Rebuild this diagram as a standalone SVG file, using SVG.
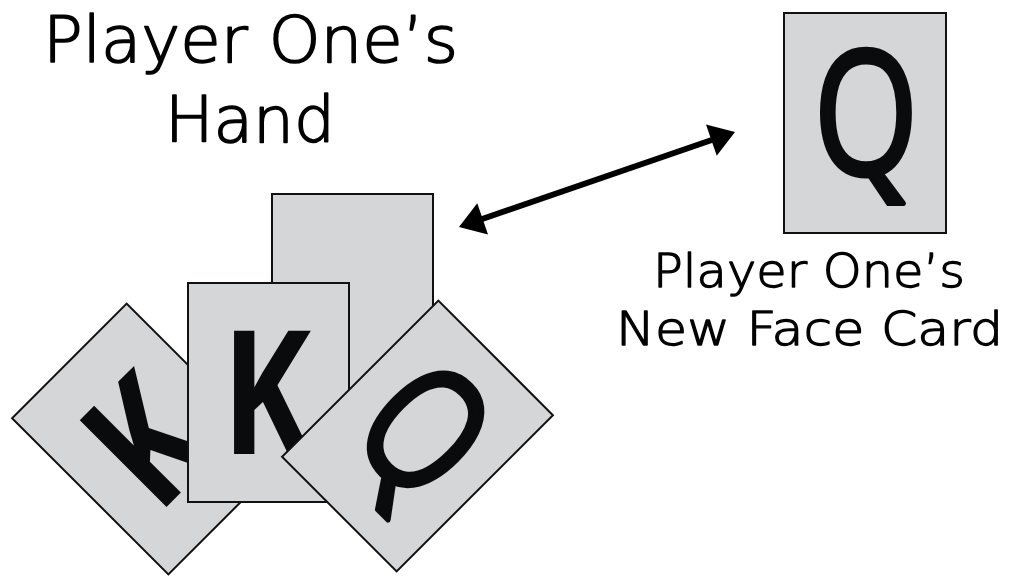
<svg xmlns="http://www.w3.org/2000/svg" width="1013" height="582" viewBox="0 0 1013 582">
  <style>
    .card { fill: #d5d6d8; stroke: #111; stroke-width: 2; }
    .face { font-family: "Open Sans", "Noto Sans", sans-serif; font-weight: 700; font-size: 172px; fill: #0a0b0c; text-anchor: middle; }
    .qface { font-weight: 400; stroke: #0a0b0c; stroke-width: 5; stroke-linejoin: round; }
    .label { font-family: "DejaVu Sans", "Liberation Sans", sans-serif; font-weight: 200; fill: #000; stroke: #000; stroke-linejoin: round; text-anchor: middle; }
    .big { font-size: 64px; stroke-width: 1.6; }
    .small { font-size: 47px; stroke-width: 1.3; }
    .conn { stroke: #000; stroke-width: 6; fill: none; }
  </style>
  <defs>
    <marker id="head" markerUnits="userSpaceOnUse" viewBox="-8 -18 30 36" refX="0" refY="0" markerWidth="30" markerHeight="36" orient="auto-start-reverse">
      <path d="M-5,-16.5 L20,0 L-5,16.5 z" fill="#000"/>
    </marker>
  </defs>
  <rect width="1013" height="582" fill="#fff"/>

  <g id="title-hand">
    <text class="label big" x="250.5" y="62" textLength="415" lengthAdjust="spacingAndGlyphs">Player One’s</text>
    <text class="label big" x="250" y="142" textLength="170" lengthAdjust="spacingAndGlyphs">Hand</text>
  </g>

  <g id="title-new">
    <text class="label small" x="809" y="287" textLength="312" lengthAdjust="spacingAndGlyphs">Player One’s</text>
    <text class="label small" x="809.5" y="345" textLength="387" lengthAdjust="spacingAndGlyphs">New Face Card</text>
  </g>

  <g id="card-back">
    <rect class="card" x="272" y="194" width="161" height="221"/>
  </g>

  <g id="card-k-left" transform="translate(147.5,439) rotate(-45)">
    <rect class="card" x="-81" y="-110.5" width="162" height="221"/>
    <text class="face" transform="translate(-2,61.5) scale(0.78,1)">K</text>
  </g>

  <g id="card-k-middle">
    <rect class="card" x="188" y="283" width="161" height="219"/>
    <text class="face" transform="translate(266.5,454) scale(0.78,1)">K</text>
  </g>

  <g id="card-q-rotated" transform="translate(417.5,436) rotate(45)">
    <rect class="card" x="-81" y="-110.5" width="162" height="221"/>
    <text class="face qface" transform="translate(1,51) scale(0.78,1)">Q</text>
  </g>

  <g id="card-q-new">
    <rect class="card" x="784" y="13" width="162" height="220" stroke-width="2.5"/>
    <text class="face qface" transform="translate(866,174) scale(0.78,1)">Q</text>
  </g>

  <g id="connectors">
    <line class="conn" x1="477.9" y1="220.5" x2="716.1" y2="138.5" marker-start="url(#head)" marker-end="url(#head)"/>
  </g>
</svg>
